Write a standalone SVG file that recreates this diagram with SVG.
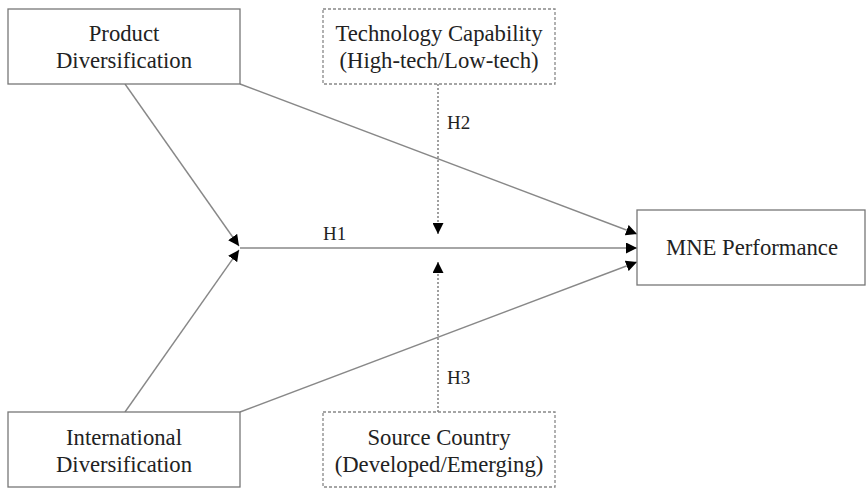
<svg xmlns="http://www.w3.org/2000/svg" width="866" height="489" viewBox="0 0 866 489">
<style>
.box{fill:#fff;stroke:#777;stroke-width:1.3}
.dbox{fill:#fff;stroke:#888;stroke-width:1.3;stroke-dasharray:3,2}
.t{font-family:"Liberation Serif","Times New Roman","DejaVu Serif",serif;font-size:22.7px;fill:#222;text-anchor:middle}
.lbl{font-family:"Liberation Serif","Times New Roman","DejaVu Serif",serif;font-size:19px;fill:#222}
.ln{stroke:#888;stroke-width:1.4;fill:none}
.dl{stroke:#777;stroke-width:1.4;fill:none;stroke-dasharray:2,2}
</style>
<defs>
<marker id="ah" viewBox="0 0 10 10" refX="10" refY="5" markerWidth="11" markerHeight="11" markerUnits="userSpaceOnUse" orient="auto">
<path d="M0,0 L10,5 L0,10 z" fill="#000"/>
</marker>
</defs>
<rect width="866" height="489" fill="#fff"/>
<g id="connectors">
<line class="ln" x1="125" y1="84" x2="239" y2="246" marker-end="url(#ah)"/>
<line class="ln" x1="125" y1="412" x2="239" y2="250" marker-end="url(#ah)"/>
<line class="ln" x1="240" y1="248" x2="637" y2="248" marker-end="url(#ah)"/>
<line class="ln" x1="240" y1="84" x2="637" y2="234" marker-end="url(#ah)"/>
<line class="ln" x1="240" y1="412" x2="637" y2="262" marker-end="url(#ah)"/>
<line class="dl" x1="438" y1="84" x2="438" y2="234" marker-end="url(#ah)"/>
<line class="dl" x1="438" y1="412" x2="438" y2="262" marker-end="url(#ah)"/>
<text class="lbl" x="323" y="240">H1</text>
<text class="lbl" x="447" y="129">H2</text>
<text class="lbl" x="447" y="384">H3</text>
</g>
<g id="product">
<rect class="box" x="8" y="9" width="232" height="75"/>
<text class="t" x="124" y="41">Product</text>
<text class="t" x="124" y="68">Diversification</text>
</g>
<g id="international">
<rect class="box" x="8" y="412" width="232" height="75"/>
<text class="t" x="124" y="445">International</text>
<text class="t" x="124" y="472">Diversification</text>
</g>
<g id="technology">
<rect class="dbox" x="323" y="9" width="232" height="75"/>
<text class="t" x="439" y="41">Technology Capability</text>
<text class="t" x="439" y="68">(High-tech/Low-tech)</text>
</g>
<g id="source">
<rect class="dbox" x="323" y="412" width="232" height="75"/>
<text class="t" x="439" y="445">Source Country</text>
<text class="t" x="439" y="472">(Developed/Emerging)</text>
</g>
<g id="mne">
<rect class="box" x="637" y="210" width="228" height="75"/>
<text class="t" x="752" y="255">MNE Performance</text>
</g>
</svg>
